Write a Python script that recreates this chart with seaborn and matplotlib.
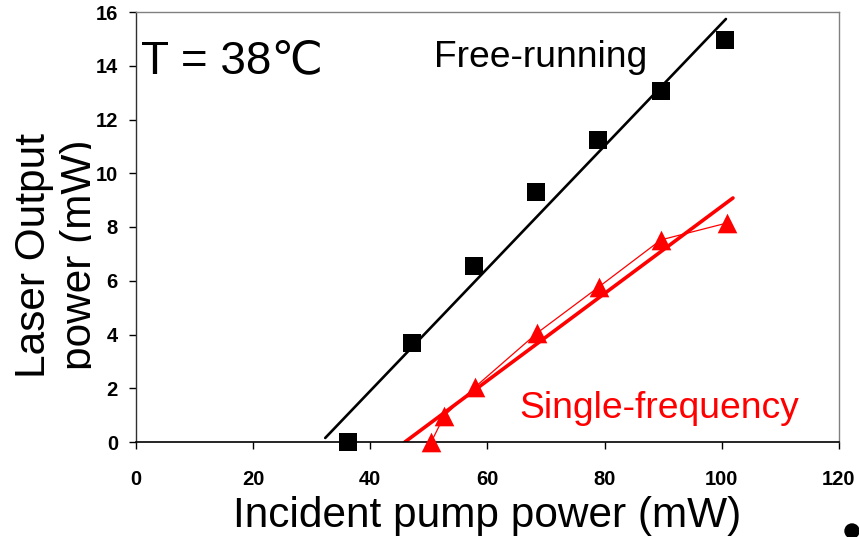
import matplotlib
matplotlib.use("Agg")
import matplotlib.pyplot as plt
from matplotlib.patches import Ellipse, Rectangle
import seaborn as sns

# Measured output power vs. incident pump power at T = 38 °C
pump_free = [36.2, 47.1, 57.7, 68.3, 78.9, 89.6, 100.5]
power_free = [0.0, 3.68, 6.55, 9.30, 11.24, 13.06, 14.96]

pump_single = [50.4, 52.6, 57.9, 68.5, 79.0, 89.6, 100.9]
power_single = [0.0, 0.97, 2.05, 4.06, 5.77, 7.52, 8.15]

# Linear fits (threshold -> highest pump level)
fit_free_x = [32.3, 100.7]
fit_free_y = [0.15, 15.74]
fit_single_x = [45.9, 101.9]
fit_single_y = [0.0, 9.08]

x_ticks = [0, 20, 40, 60, 80, 100, 120]
y_ticks = [0, 2, 4, 6, 8, 10, 12, 14, 16]

sns.set_style("white")
plt.rcParams["font.family"] = ["Liberation Sans", "DejaVu Sans"]
plt.rcParams["text.color"] = "black"
plt.rcParams["axes.labelcolor"] = "black"
plt.rcParams["xtick.color"] = "black"
plt.rcParams["ytick.color"] = "black"

fig = plt.figure(figsize=(8.59, 5.37), dpi=100)
W, H = 859, 537
ax = fig.add_axes([136 / W, 1 - 442 / H, 703 / W, 430 / H])

# fit lines
sns.lineplot(x=fit_free_x, y=fit_free_y, ax=ax, color="black", lw=1.9,
             estimator=None, sort=False)
sns.lineplot(x=fit_single_x, y=fit_single_y, ax=ax, color="red", lw=2.6,
             estimator=None, sort=False)

# single-frequency data joined by a thin line
sns.lineplot(x=pump_single, y=power_single, ax=ax, color="red", lw=0.9,
             estimator=None, sort=False)
sns.scatterplot(x=pump_single, y=power_single, ax=ax, color="red",
                marker="^", s=200, linewidth=0, clip_on=False, zorder=5)

# free-running data
sns.scatterplot(x=pump_free, y=power_free, ax=ax, color="black",
                marker="s", s=150, linewidth=0, clip_on=False, zorder=5)

ax.set_xlim(0, 120)
ax.set_ylim(0, 16)
ax.set_xticks(x_ticks)
ax.set_yticks(y_ticks)
ax.set_xticklabels([str(v) for v in x_ticks])
ax.set_yticklabels([str(v) for v in y_ticks])

for lab in ax.get_xticklabels() + ax.get_yticklabels():
    lab.set_fontweight("bold")
    lab.set_fontsize(14.5)
    lab.set_color("black")

ax.tick_params(axis="x", direction="out", length=5, width=1, color="black",
               pad=15, bottom=True)
ax.tick_params(axis="y", direction="out", length=5, width=1, color="black",
               pad=8, left=True)

for side in ("top", "right"):
    ax.spines[side].set_color("#808080")
    ax.spines[side].set_linewidth(1.0)
ax.spines["left"].set_color("#303030")
ax.spines["left"].set_linewidth(1.0)
ax.spines["bottom"].set_color("black")
ax.spines["bottom"].set_linewidth(1.2)

ax.set_xlabel("Incident pump power (mW)", fontsize=30.5, color="black")
ax.xaxis.set_label_coords(0.5, -0.125)

# y label sits behind a white strip next to the tick labels
fig.text(100 / W, 1 - 255 / H, "Laser Output\npower (mW)", fontsize=30.5,
         rotation=90, rotation_mode="anchor", ha="center", va="bottom",
         linespacing=1.2, color="black", zorder=-2)
fig.patches.append(Rectangle((90.5 / W, 0.0), 45 / W, 1.0,
                             transform=fig.transFigure, facecolor="white",
                             edgecolor="none", zorder=-1))

ax.text(0.007, 0.858, "T = 38\u2103", transform=ax.transAxes, fontsize=33,
        va="baseline", ha="left", color="black")
ax.text(0.424, 0.872, "Free-running", transform=ax.transAxes, fontsize=26.8,
        va="baseline", ha="left", color="black")
ax.text(0.545, 0.056, "Single-frequency", transform=ax.transAxes,
        fontsize=26.8, va="baseline", ha="left", color="red")

# bullet in the lower right corner
fig.patches.append(Ellipse((852 / W, 1 - 531 / H), 14 / W, 14 / H,
                           transform=fig.transFigure, color="black"))

fig.savefig("out.png", dpi=100)
